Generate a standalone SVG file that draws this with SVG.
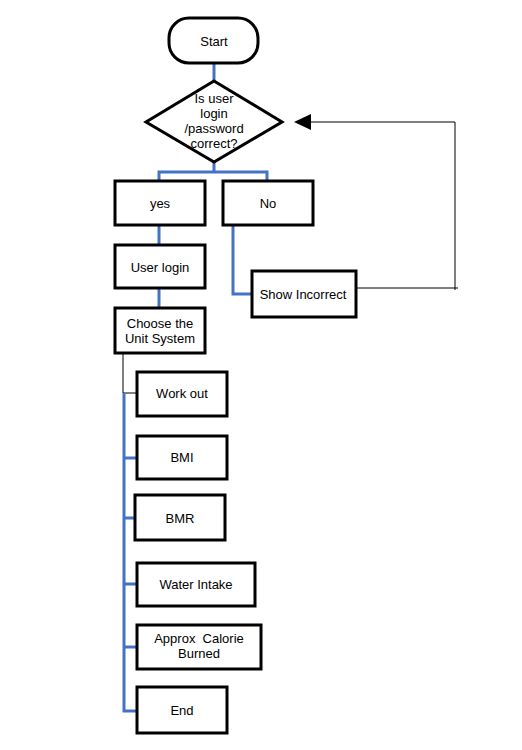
<svg xmlns="http://www.w3.org/2000/svg" width="522" height="750" viewBox="0 0 522 750">
<style>
.box{fill:#fff;stroke:#000;stroke-width:3}
.t{font-family:"Liberation Sans",Arial,sans-serif;font-size:13px;fill:#000;text-anchor:middle;dominant-baseline:central}
.blue{fill:none;stroke:#4472C4;stroke-width:3}
.thin{fill:none;stroke:#000;stroke-width:1}
</style>
<defs>
<marker id="ah" markerWidth="16" markerHeight="16" refX="1" refY="8" orient="auto" markerUnits="userSpaceOnUse">
<path d="M16,0 L0,8 L16,16 Z" fill="#000"/>
</marker>
</defs>
<rect width="522" height="750" fill="#fff"/>
<g id="connectors">
<path class="blue" d="M214,63 V81"/>
<path class="blue" d="M214,162 V172 M159,181 V172 H267 V181"/>
<path class="blue" d="M159,225 V245"/>
<path class="blue" d="M159,288 V308"/>
<path class="blue" d="M233,225 V294 H252"/>
<path class="thin" d="M123,353 V393 H137"/>
<path class="blue" d="M124,393 V711 H137 M124,458 H137 M124,518 H135 M124,584 H137 M124,647 H137"/>
<path class="thin" stroke="#333" d="M356,288 H458 M455,290 V122 H310"/>
<path d="M294,122 L311,114 L311,130 Z" fill="#000"/>
</g>
<g id="start"><rect class="box" x="169" y="18" width="89" height="45" rx="20"/><text class="t" x="214" y="41">Start</text></g>
<g id="decision"><polygon class="box" points="214,81 282,122 214,162 146,122"/>
<text class="t" x="214" y="98">Is user</text><text class="t" x="214" y="113">login</text><text class="t" x="214" y="128">/password</text><text class="t" x="214" y="143">correct?</text></g>
<g id="yes"><rect class="box" x="115" y="181" width="90" height="44"/><text class="t" x="160" y="203">yes</text></g>
<g id="no"><rect class="box" x="223" y="181" width="90" height="44"/><text class="t" x="268" y="203">No</text></g>
<g id="userlogin"><rect class="box" x="115" y="245" width="90" height="43"/><text class="t" x="160" y="267">User login</text></g>
<g id="choose"><rect class="box" x="115" y="308" width="90" height="45"/><text class="t" x="160" y="323">Choose the</text><text class="t" x="160" y="338">Unit System</text></g>
<g id="showincorrect"><rect class="box" x="252" y="271" width="104" height="46"/><text class="t" x="303" y="294">Show Incorrect</text></g>
<g id="workout"><rect class="box" x="137" y="372" width="90" height="44"/><text class="t" x="182" y="393">Work out</text></g>
<g id="bmi"><rect class="box" x="137" y="436" width="90" height="43"/><text class="t" x="182" y="457">BMI</text></g>
<g id="bmr"><rect class="box" x="135" y="495" width="90" height="45"/><text class="t" x="180" y="518">BMR</text></g>
<g id="water"><rect class="box" x="137" y="563" width="118" height="43"/><text class="t" x="196" y="584">Water Intake</text></g>
<g id="calorie"><rect class="box" x="137" y="625" width="124" height="44"/><text class="t" x="199" y="638" xml:space="preserve">Approx  Calorie</text><text class="t" x="199" y="653">Burned</text></g>
<g id="end"><rect class="box" x="137" y="687" width="90" height="46"/><text class="t" x="182" y="710">End</text></g>
</svg>
